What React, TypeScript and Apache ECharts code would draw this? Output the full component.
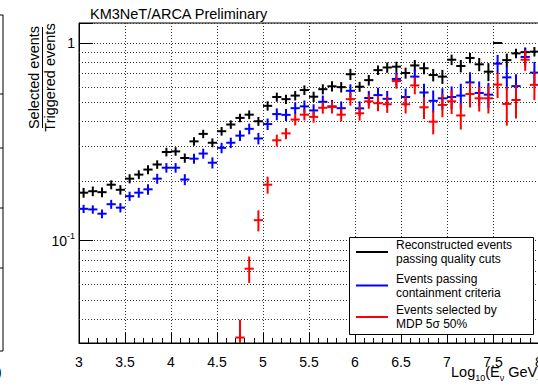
import { useEffect, useRef } from "react";
import * as echarts from "echarts";

// Bin centres of log10(E_nu / GeV), bin width 0.1
const BINS = [
  3.05, 3.15, 3.25, 3.35, 3.45, 3.55, 3.65, 3.75, 3.85, 3.95,
  4.05, 4.15, 4.25, 4.35, 4.45, 4.55, 4.65, 4.75, 4.85, 4.95,
  5.05, 5.15, 5.25, 5.35, 5.45, 5.55, 5.65, 5.75, 5.85, 5.95,
  6.05, 6.15, 6.25, 6.35, 6.45, 6.55, 6.65, 6.75, 6.85, 6.95,
  7.05, 7.15, 7.25, 7.35, 7.45, 7.55, 7.65, 7.75, 7.85, 7.95,
];
const BIN_HALF = 0.05;

// Reconstructed events passing quality cuts
const RECO = [
  0.175, 0.178, 0.176, 0.192, 0.181, 0.206, 0.216, 0.229, 0.243, 0.281,
  0.283, 0.262, 0.318, 0.347, 0.313, 0.358, 0.387, 0.418, 0.434, 0.402,
  0.481, 0.533, 0.52, 0.542, 0.578, 0.535, 0.584, 0.604, 0.598, 0.695,
  0.601, 0.649, 0.729, 0.752, 0.759, 0.705, 0.77, 0.745, 0.689, 0.676,
  0.823, 0.765, 0.84, 0.78, 0.716, 1.0, 0.819, 0.886, 0.899, 0.904,
];
const RECO_ERR = [
  0.01, 0.01, 0.01, 0.01, 0.01, 0.011, 0.011, 0.012, 0.012, 0.014,
  0.014, 0.014, 0.016, 0.017, 0.016, 0.018, 0.019, 0.021, 0.022, 0.021,
  0.026, 0.028, 0.028, 0.03, 0.032, 0.032, 0.034, 0.036, 0.036, 0.045,
  0.035, 0.04, 0.04, 0.045, 0.045, 0.045, 0.05, 0.05, 0.05, 0.055,
  0.05, 0.055, 0.05, 0.06, 0.075, 0, 0.065, 0.05, 0.05, 0.05,
];

// Events passing containment criteria
const CONT = [
  0.145, 0.144, 0.137, 0.153, 0.147, 0.168, 0.175, 0.182, 0.206, 0.234,
  0.234, 0.204, 0.26, 0.276, 0.248, 0.295, 0.313, 0.34, 0.368, 0.329,
  0.389, 0.437, 0.433, 0.468, 0.478, 0.456, 0.504, 0.478, 0.468, 0.573,
  0.467, 0.527, 0.545, 0.522, 0.658, 0.533, 0.676, 0.562, 0.51, 0.525,
  0.533, 0.542, 0.632, 0.559, 0.548, 0.786, 0.67, 0.605, 0.85, 0.708,
];
const CONT_ERR = [
  0.007, 0.007, 0.007, 0.008, 0.008, 0.009, 0.01, 0.011, 0.012, 0.013,
  0.013, 0.013, 0.015, 0.016, 0.016, 0.018, 0.019, 0.021, 0.023, 0.022,
  0.026, 0.03, 0.03, 0.033, 0.034, 0.034, 0.038, 0.037, 0.038, 0.045,
  0.04, 0.045, 0.048, 0.05, 0.055, 0.055, 0.06, 0.06, 0.065, 0.065,
  0.07, 0.08, 0.08, 0.08, 0.08, 0.085, 0.09, 0.09, 0.09, 0.095,
];

// Events selected by MDP 5 sigma 50%
const MDP = [
  null, null, null, null, null, null, null, null, null, null,
  null, null, null, null, null, null, null, 0.0324, 0.0722, 0.127,
  0.192, 0.322, 0.349, 0.41, 0.434, 0.423, 0.47, 0.474, 0.434, 0.52,
  0.441, 0.507, 0.496, 0.49, 0.642, 0.49, 0.61, 0.473, 0.4, 0.486,
  0.507, 0.43, 0.552, 0.525, 0.525, 0.616, 0.492, 0.515, 0.823, 0.614,
];
const MDP_ERR = [
  null, null, null, null, null, null, null, null, null, null,
  null, null, null, null, null, null, null, 0.0075, 0.011, 0.0155,
  0.019, 0.022, 0.023, 0.027, 0.028, 0.028, 0.031, 0.033, 0.033, 0.038,
  0.036, 0.042, 0.045, 0.047, 0.055, 0.05, 0.06, 0.06, 0.055, 0.065,
  0.07, 0.065, 0.08, 0.075, 0.085, 0.09, 0.11, 0.1, 0.1, 0.1,
];

const SERIES_NAMES = [
  "Reconstructed events\npassing quality cuts",
  "Events passing\ncontainment criteria",
  "Events selected by\nMDP 5σ 50%",
];
const COLORS = ["#000000", "#0000ff", "#ff0000"];

const X_MIN = 3;
const X_MAX = 8;
const X_STEP = 0.5;
const Y_MIN = 0.0304;
const Y_MAX = 1.262;
const Y_MINOR = [0.04, 0.05, 0.06, 0.07, 0.08, 0.09, 0.2, 0.3, 0.4, 0.5, 0.6, 0.7, 0.8, 0.9];

const FONT = "'Liberation Sans', Arial, Helvetica, sans-serif";
const DOT = { color: "#333", width: 1, type: [1, 2] as number[] };

function rows(vals: (number | null)[], errs: (number | null)[]) {
  const out: number[][] = [];
  BINS.forEach((x, i) => {
    const v = vals[i];
    const e = errs[i];
    if (v == null || e == null) return;
    out.push([x, v, v - e, v + e]);
  });
  return out;
}

function errRenderer(color: string) {
  return (_params: any, api: any) => {
    const x = api.value(0);
    const y = api.value(1);
    const lo = Math.max(api.value(2), Y_MIN);
    const hi = Math.min(api.value(3), Y_MAX);
    const l = api.coord([x - BIN_HALF, y]);
    const r = api.coord([x + BIN_HALF, y]);
    const b = api.coord([x, lo]);
    const t = api.coord([x, hi]);
    const style = { stroke: color, lineWidth: 2 };
    return {
      type: "group",
      children: [
        { type: "line", shape: { x1: l[0], y1: l[1], x2: r[0], y2: r[1] }, style },
        { type: "line", shape: { x1: b[0], y1: b[1], x2: t[0], y2: t[1] }, style },
      ],
    };
  };
}

export default function App() {
  const ref = useRef<HTMLDivElement>(null);

  useEffect(() => {
    if (!ref.current) return;
    const chart = echarts.init(ref.current, null, { renderer: "svg" });

    const datasets = [rows(RECO, RECO_ERR), rows(CONT, CONT_ERR), rows(MDP, MDP_ERR)];

    const legendX = 349;
    const legendY = 237;
    const legendRows = [252, 285.5, 317];

    const legendGraphics: any[] = [
      {
        type: "rect",
        shape: { x: legendX + 0.5, y: legendY + 0.5, width: 184, height: 97 },
        style: { fill: "#fff", stroke: "#000", lineWidth: 1 },
        z: 100,
      },
    ];
    SERIES_NAMES.forEach((name, i) => {
      legendGraphics.push({
        type: "line",
        shape: { x1: 356, y1: legendRows[i], x2: 388, y2: legendRows[i] },
        style: { stroke: COLORS[i], lineWidth: 2 },
        z: 101,
      });
      legendGraphics.push({
        type: "text",
        x: 396,
        y: legendRows[i],
        style: {
          text: name,
          fontSize: 12,
          lineHeight: 14,
          fontFamily: FONT,
          fill: "#000",
          align: "left",
          verticalAlign: "middle",
        },
        z: 101,
      });
    });

    const leftRemnantTicks = [15, 94, 148, 208, 268, 351];

    const option: any = {
      animation: false,
      textStyle: { fontFamily: FONT },
      title: {
        text: "KM3NeT/ARCA Preliminary",
        left: 90,
        top: 6,
        padding: 0,
        textStyle: { fontSize: 14.5, fontWeight: "normal", color: "#000", fontFamily: FONT },
      },
      grid: {
        left: 79,
        top: 23,
        width: 460,
        height: 320,
        show: true,
        borderColor: "#000",
        borderWidth: 1,
        backgroundColor: "transparent",
        containLabel: false,
        outerBoundsMode: "none",
      },
      xAxis: {
        type: "value",
        min: X_MIN,
        max: X_MAX,
        interval: X_STEP,
        axisLine: { show: true, lineStyle: { color: "#000", width: 1 } },
        axisTick: { show: true, inside: true, length: 10, lineStyle: { color: "#000" } },
        minorTick: { show: true, splitNumber: 5, length: 5, lineStyle: { color: "#000" } },
        splitLine: { show: true, lineStyle: DOT },
        axisLabel: {
          fontSize: 14,
          color: "#000",
          margin: 12,
          fontFamily: FONT,
          formatter: (v: number) => String(Math.round(v * 10) / 10),
        },
      },
      yAxis: {
        type: "log",
        logBase: 10,
        min: Y_MIN,
        max: Y_MAX,
        axisLine: { show: true, lineStyle: { color: "#000", width: 1 } },
        axisTick: { show: true, inside: true, length: 14, lineStyle: { color: "#000" } },
        splitLine: { show: true, lineStyle: DOT },
        axisLabel: {
          color: "#000",
          margin: 4,
          fontFamily: FONT,
          fontSize: 14,
          formatter: (v: number) => {
            const lg = Math.log10(v);
            if (Math.abs(lg) < 1e-6) return "1";
            if (Math.abs(lg + 1) < 1e-6) return "{b|10}{s|-1}";
            return "";
          },
          rich: {
            b: { fontSize: 14, lineHeight: 18, fontFamily: FONT, color: "#000", verticalAlign: "middle" },
            s: { fontSize: 9, lineHeight: 9, fontFamily: FONT, color: "#000", verticalAlign: "top" },
          },
        },
      },
      series: [
        {
          type: "line",
          data: [],
          silent: true,
          markLine: {
            silent: true,
            z: 1,
            symbol: ["none", "none"],
            label: { show: false },
            lineStyle: DOT,
            emphasis: { disabled: true },
            data: Y_MINOR.map((v) => ({ yAxis: v })),
          },
        },
        ...datasets.map((d, i) => ({
          type: "custom",
          name: SERIES_NAMES[i],
          renderItem: errRenderer(COLORS[i]),
          data: d,
          dimensions: ["x", "y", "lo", "hi"],
          encode: { x: 0, y: 1 },
          z: 3 + i,
          silent: true,
        })),
      ],
      graphic: [
        // y-axis title as a fraction
        {
          type: "text",
          x: 34,
          y: 77.5,
          rotation: Math.PI / 2,
          style: {
            text: "Selected events",
            fontSize: 14.5,
            fontFamily: FONT,
            fill: "#000",
            align: "center",
            verticalAlign: "middle",
          },
        },
        {
          type: "line",
          shape: { x1: 42.5, y1: 27, x2: 42.5, y2: 128 },
          style: { stroke: "#000", lineWidth: 1 },
        },
        {
          type: "text",
          x: 49.5,
          y: 77.5,
          rotation: Math.PI / 2,
          style: {
            text: "Triggered events",
            fontSize: 14.5,
            fontFamily: FONT,
            fill: "#000",
            align: "center",
            verticalAlign: "middle",
          },
        },
        // x-axis title
        {
          type: "text",
          x: 451,
          y: 372,
          style: {
            text: "{a|Log}{s|10}{a|(E}{s|ν}{a| GeV)}",
            align: "left",
            verticalAlign: "middle",
            rich: {
              a: { fontSize: 14.5, lineHeight: 20, fontFamily: FONT, fill: "#000", verticalAlign: "middle" },
              s: { fontSize: 9, lineHeight: 10, fontFamily: FONT, fill: "#000", verticalAlign: "bottom" },
            },
          },
        },
        // remnant of the neighbouring panel at the left border
        {
          type: "line",
          shape: { x1: 3, y1: 15, x2: 3, y2: 351 },
          style: { stroke: "#000", lineWidth: 1 },
        },
        ...leftRemnantTicks.map((y) => ({
          type: "line",
          shape: { x1: 0, y1: y, x2: 3, y2: y },
          style: { stroke: "#000", lineWidth: 1 },
        })),
        {
          type: "text",
          x: -3,
          y: 372,
          style: { text: ")", fontSize: 14, fontFamily: FONT, fill: "#000", verticalAlign: "middle" },
        },
        ...legendGraphics,
      ],
    };

    chart.setOption(option);
    return () => chart.dispose();
  }, []);

  return (
    <div
      ref={ref}
      style={{ position: "absolute", left: 0, top: 0, width: 538, height: 386, background: "#fff" }}
    />
  );
}
